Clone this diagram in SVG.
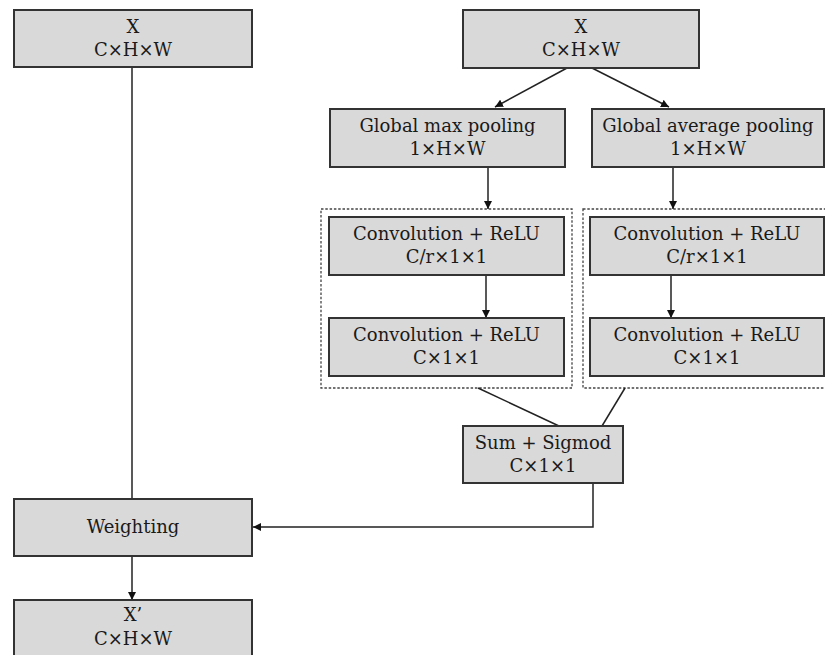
<svg xmlns="http://www.w3.org/2000/svg" width="825" height="655" viewBox="0 0 825 655">
<defs>
<style>
.box{fill:#d9d9d9;stroke:#333;stroke-width:2}
.grp{fill:none;stroke:#444;stroke-width:1.3;stroke-dasharray:2.5,1.8}
.t{font-family:"DejaVu Serif",serif;font-size:18px;fill:#1a1a1a;text-anchor:middle}
.c{fill:none;stroke:#222;stroke-width:1.5}
</style>
<marker id="ah" viewBox="0 0 10 10" refX="10" refY="5" markerWidth="8" markerHeight="8" markerUnits="userSpaceOnUse" orient="auto">
<path d="M0,0 L10,5 L0,10 z" fill="#111"/>
</marker>
</defs>
<rect width="825" height="655" fill="#fff"/>
<g id="groups">
<rect class="grp" x="321" y="209" width="251" height="179"/>
<rect class="grp" x="583" y="209" width="250" height="179"/>
</g>
<g id="connectors">
<line class="c" x1="132" y1="67" x2="132" y2="499"/>
<line class="c" x1="132" y1="556" x2="132" y2="600" marker-end="url(#ah)"/>
<line class="c" x1="567" y1="68" x2="495" y2="107" marker-end="url(#ah)"/>
<line class="c" x1="592" y1="68" x2="669" y2="107" marker-end="url(#ah)"/>
<line class="c" x1="488" y1="167" x2="488" y2="209" marker-end="url(#ah)"/>
<line class="c" x1="673" y1="167" x2="673" y2="209" marker-end="url(#ah)"/>
<line class="c" x1="486" y1="275" x2="486" y2="318" marker-end="url(#ah)"/>
<line class="c" x1="671" y1="275" x2="671" y2="318" marker-end="url(#ah)"/>
<line class="c" x1="478" y1="388" x2="559" y2="426"/>
<line class="c" x1="625" y1="388" x2="602" y2="426"/>
<polyline class="c" points="593,483 593,527 253,527" marker-end="url(#ah)"/>
</g>
<g id="x-left">
<rect class="box" x="14" y="10" width="238" height="57"/>
<text class="t" x="133" y="33">X</text>
<text class="t" x="133" y="56">C×H×W</text>
</g>
<g id="x-right">
<rect class="box" x="463" y="10" width="236" height="58"/>
<text class="t" x="581" y="33">X</text>
<text class="t" x="581" y="56">C×H×W</text>
</g>
<g id="max-pool">
<rect class="box" x="330" y="109" width="235" height="58"/>
<text class="t" x="447.5" y="132">Global max pooling</text>
<text class="t" x="447.5" y="155">1×H×W</text>
</g>
<g id="avg-pool">
<rect class="box" x="592" y="109" width="232" height="58"/>
<text class="t" x="708" y="132">Global average pooling</text>
<text class="t" x="708" y="155">1×H×W</text>
</g>
<g id="conv1-left">
<rect class="box" x="329" y="217" width="235" height="58"/>
<text class="t" x="446.5" y="240">Convolution + ReLU</text>
<text class="t" x="446.5" y="263">C/r×1×1</text>
</g>
<g id="conv2-left">
<rect class="box" x="329" y="318" width="235" height="58"/>
<text class="t" x="446.5" y="341">Convolution + ReLU</text>
<text class="t" x="446.5" y="364">C×1×1</text>
</g>
<g id="conv1-right">
<rect class="box" x="590" y="217" width="234" height="58"/>
<text class="t" x="707" y="240">Convolution + ReLU</text>
<text class="t" x="707" y="263">C/r×1×1</text>
</g>
<g id="conv2-right">
<rect class="box" x="590" y="318" width="234" height="58"/>
<text class="t" x="707" y="341">Convolution + ReLU</text>
<text class="t" x="707" y="364">C×1×1</text>
</g>
<g id="sum">
<rect class="box" x="463" y="426" width="160" height="57"/>
<text class="t" x="543" y="449">Sum + Sigmod</text>
<text class="t" x="543" y="472">C×1×1</text>
</g>
<g id="weighting">
<rect class="box" x="14" y="499" width="238" height="57"/>
<text class="t" x="133" y="533">Weighting</text>
</g>
<g id="x-out">
<rect class="box" x="14" y="600" width="238" height="70"/>
<text class="t" x="133" y="621">X’</text>
<text class="t" x="133" y="645">C×H×W</text>
</g>
</svg>
